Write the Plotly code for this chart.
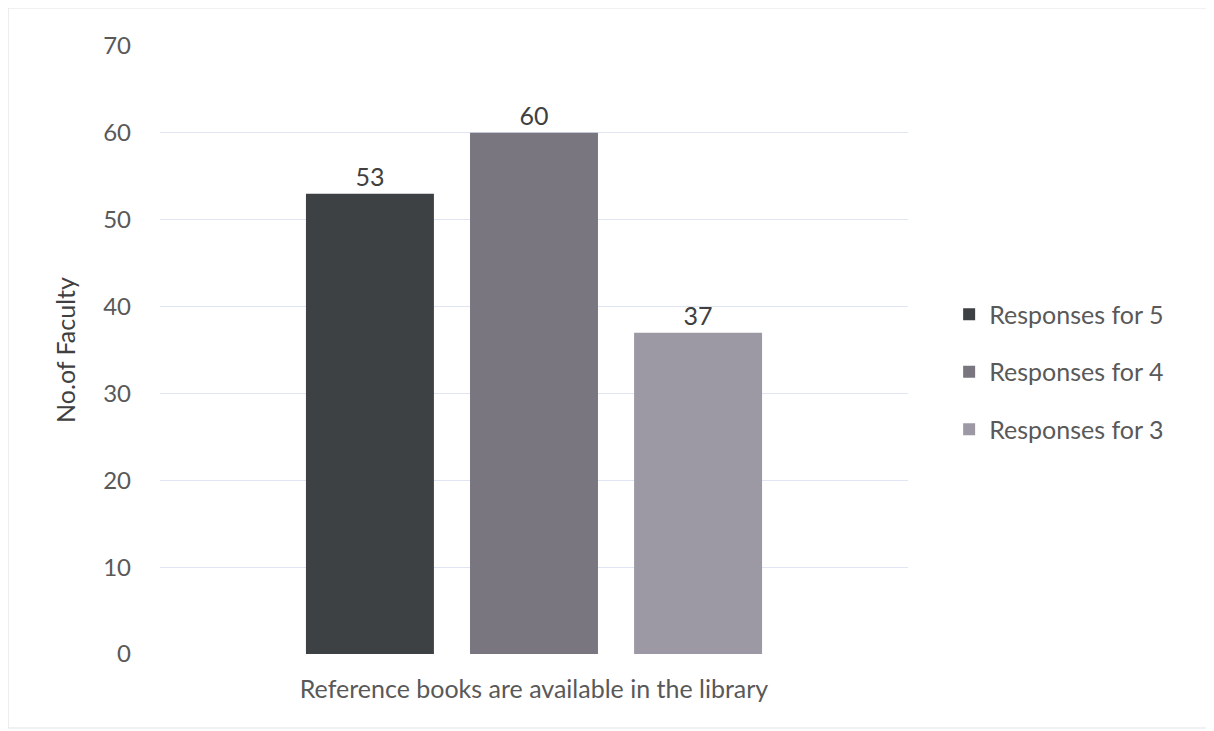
import plotly.graph_objects as go

categories = ["Reference books are available in the library"]
series_names = ["Responses for 5", "Responses for 4", "Responses for 3"]
values_5 = [53]
values_4 = [60]
values_3 = [37]
colors = ["#3e4144", "#7a7680", "#9d99a4"]
y_ticks = [0, 10, 20, 30, 40, 50, 60, 70]

fig = go.Figure()
for i, (name, vals, col) in enumerate(zip(series_names, [values_5, values_4, values_3], colors)):
    fig.add_trace(go.Bar(
        x=categories, y=vals, name=name, legendgroup=f"g{i}",
        marker=dict(color=col, line=dict(width=0)),
        text=[str(v) for v in vals], textposition="outside",
        textfont=dict(size=25, color="#404040"), cliponaxis=False,
    ))

fig.update_layout(
    width=1214, height=731,
    margin=dict(l=152, r=314, t=38, b=85),
    paper_bgcolor="white", plot_bgcolor="white",
    barmode="group", bargap=0.342, bargroupgap=0.22,
    font=dict(family="Lato, 'Open Sans', sans-serif", size=24, color="#595959"),
    showlegend=True,
    legend=dict(x=1.055, y=0.464, xanchor="left", yanchor="middle",
                font=dict(size=25, color="#595959"), tracegroupgap=22,
                itemsizing="constant", itemwidth=30),
    xaxis=dict(showgrid=False, showline=False, ticks="", ticklabelstandoff=18,
               tickfont=dict(size=25, color="#595959")),
    yaxis=dict(range=[0, 70], tickvals=y_ticks, showgrid=True, gridcolor="#dfe5f2",
               gridwidth=1, zeroline=False, showline=False, ticks="",
               tickfont=dict(size=24, color="#595959"), ticklabelstandoff=28,
               title=dict(text="No.of Faculty", font=dict(size=25, color="#404040"), standoff=20)),
    shapes=[dict(type="rect", xref="paper", yref="paper", x0=-0.203, x1=1.404, y0=-0.1217, y1=1.0625,
                 line=dict(color="#e3e3e3", width=1))],
)

fig.write_html("out.html")
